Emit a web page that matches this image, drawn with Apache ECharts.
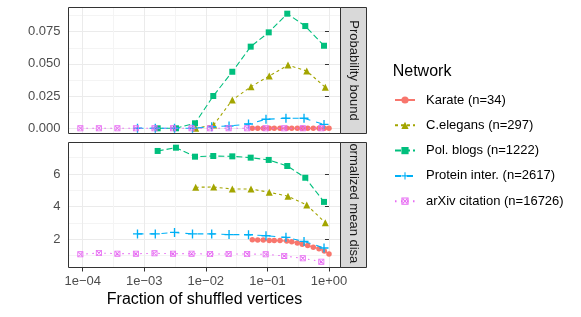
<!DOCTYPE html>
<html><head><meta charset="utf-8">
<script src="https://cdn.jsdelivr.net/npm/echarts@6/dist/echarts.min.js"></script>
<style>html,body{margin:0;padding:0;background:#fff}#c{width:581px;height:317px}</style>
</head><body><div id="c"></div>
<script>
// ---------------- data ----------------
const networks = ['Karate (n=34)', 'C.elegans (n=297)', 'Pol. blogs (n=1222)', 'Protein inter. (n=2617)', 'arXiv citation (n=16726)'];
const panelTitles = ['Probability bound', 'Normalized mean disagreement'];

const xKarate = [0.0568, 0.0695, 0.0857, 0.107, 0.129, 0.160, 0.206, 0.248, 0.306, 0.368, 0.451, 0.556, 0.688, 0.839, 1.0];
const probKarate = [0, 0, 0, 0, 0, 0, 0, 0, 0, 0, 0, 0, 0, 0, 0];
const disKarate = [1.97, 1.96, 1.96, 1.93, 1.92, 1.92, 1.89, 1.85, 1.78, 1.70, 1.62, 1.52, 1.42, 1.28, 1.10];

const xCelegans = [0.00684, 0.0134, 0.0269, 0.0541, 0.107, 0.216, 0.435, 0.871];
const probCelegans = [0, 0.0026, 0.0220, 0.0323, 0.0406, 0.0491, 0.0445, 0.0318];
const disCelegans = [5.19, 5.20, 5.08, 5.08, 4.88, 4.64, 4.10, 3.02];

const xPolblogs = [0.00165, 0.00327, 0.00667, 0.0132, 0.0269, 0.0535, 0.105, 0.210, 0.412, 0.83];
const probPolblogs = [0, 0, 0.0039, 0.0251, 0.0439, 0.0634, 0.0745, 0.0890, 0.0794, 0.0641];
const disPolblogs = [7.41, 7.61, 7.06, 7.10, 7.08, 7.00, 6.86, 6.49, 5.77, 4.29];

const xProtein = [0.000776, 0.00151, 0.00310, 0.00607, 0.01245, 0.0238, 0.0493, 0.0948, 0.200, 0.393, 0.83];
const probProtein = [0, 0, 0, 0, 0.0012, 0.0018, 0.0033, 0.0070, 0.0078, 0.0078, 0.0030];
const disProtein = [2.33, 2.33, 2.42, 2.33, 2.33, 2.29, 2.28, 2.22, 2.12, 1.87, 1.47];

const xArxiv = [0.0000916, 0.000183, 0.000366, 0.000732, 0.001465, 0.00293, 0.00586, 0.01172, 0.02344, 0.04688, 0.09375, 0.1875, 0.375, 0.75];
const probArxiv = [0, 0, 0, 0, 0, 0, 0, 0, 0, 0, 0, 0, 0, 0];
const disArxiv = [1.08, 1.16, 1.12, 1.12, 1.14, 1.12, 1.12, 1.10, 1.10, 1.10, 1.08, 0.98, 0.84, 0.63];

const xTickValues = [1e-4, 1e-3, 1e-2, 1e-1, 1];
const xTickLabels = ['1e\u221204', '1e\u221203', '1e\u221202', '1e\u221201', '1e+00'];
const yTopTicks = [0, 0.025, 0.05, 0.075];
const yTopLabels = ['0.000', '0.025', '0.050', '0.075'];
const yBotTicks = [2, 4, 6];
const yBotLabels = ['2', '4', '6'];

// ---------------- style ----------------
const FONT = 'Liberation Sans, Arial, Helvetica, sans-serif';
const colors = ['#F8766D', '#A3A500', '#00BF7D', '#00B0F6', '#E76BF3'];
const dashes = ['solid', [3, 3], [6, 3], [6, 6], [1.5, 4.5]];
const symPlus = 'path://M4.25,0H5.75V4.25H10V5.75H5.75V10H4.25V5.75H0V4.25H4.25Z';
const symBoxX = 'path://M0,0H10V10H0Z M1.4,1.4V8.6H8.6V1.4Z M1.4,2.4L2.4,1.4L8.6,7.6L7.6,8.6Z M7.6,1.4L8.6,2.4L2.4,8.6L1.4,7.6Z';
const symbols = ['circle', 'triangle', 'rect', symPlus, symBoxX];
const symSizes = [5.5, 7, 6, 9, 6];

const xs = [xKarate, xCelegans, xPolblogs, xProtein, xArxiv];
const probs = [probKarate, probCelegans, probPolblogs, probProtein, probArxiv];
const diss = [disKarate, disCelegans, disPolblogs, disProtein, disArxiv];

const G = {left: 68.5, right: 340.5, top1: 7.5, bot1: 133.5, top2: 142.5, bot2: 267.5};
const xLog = xTickValues.map(v => Math.log10(v));

function xLabel(v) {
  for (let i = 0; i < xLog.length; i++) if (Math.abs(v - xLog[i]) < 1e-6) return xTickLabels[i];
  return '';
}
function lab(ticks, labels) {
  return v => { for (let i = 0; i < ticks.length; i++) if (Math.abs(v - ticks[i]) < 1e-9) return labels[i]; return ''; };
}

function xAxis(k) {
  return {
    gridIndex: k, type: 'value', min: -4.2306, max: 0.1868, minInterval: 1, maxInterval: 1,
    axisLine: {show: false},
    axisTick: {show: k === 1, length: 4, customValues: xLog, lineStyle: {color: '#333333', width: 1}},
    axisLabel: {show: k === 1, customValues: xLog, formatter: xLabel, color: '#4D4D4D', fontSize: 13, margin: 7, fontFamily: FONT},
    splitLine: {show: true, lineStyle: {color: '#EBEBEB', width: 1}},
    minorTick: {show: false, splitNumber: 2},
    minorSplitLine: {show: true, lineStyle: {color: '#F4F4F4', width: 1}},
    name: k === 1 ? 'Fraction of shuffled vertices' : '',
    nameLocation: 'middle', nameGap: 24,
    nameTextStyle: {fontSize: 16, color: '#000', fontFamily: FONT}
  };
}
function yAxis(k) {
  const top = k === 0;
  const ticks = top ? yTopTicks : yBotTicks;
  return {
    gridIndex: k, type: 'value',
    min: top ? -0.00404 : 0.273, max: top ? 0.0938 : 7.928,
    minInterval: top ? 0.025 : 2, maxInterval: top ? 0.025 : 2,
    axisLine: {show: false},
    axisTick: {show: true, length: 4, customValues: ticks, lineStyle: {color: '#333333', width: 1}},
    axisLabel: {customValues: ticks, formatter: lab(ticks, top ? yTopLabels : yBotLabels), color: '#4D4D4D', fontSize: 13, margin: 8, fontFamily: FONT},
    splitLine: {show: true, lineStyle: {color: '#EBEBEB', width: 1}},
    minorTick: {show: false, splitNumber: 2},
    minorSplitLine: {show: true, lineStyle: {color: '#F4F4F4', width: 1}}
  };
}

const series = [];
for (let p = 0; p < 2; p++) {
  for (let i = 0; i < networks.length; i++) {
    const yv = p === 0 ? probs[i] : diss[i];
    series.push({
      name: networks[i], type: 'line', xAxisIndex: p, yAxisIndex: p,
      data: xs[i].map((f, j) => [Math.log10(f), yv[j]]),
      symbol: symbols[i], symbolSize: symSizes[i], showSymbol: true,
      lineStyle: {color: colors[i], width: 1.1, type: dashes[i]},
      itemStyle: {color: colors[i], borderWidth: 0},
      emphasis: {disabled: true}, silent: true, z: 2 + i, clip: false
    });
  }
}

const graphic = [
  {type: 'rect', shape: {x: G.left, y: G.top1, width: G.right - G.left, height: G.bot1 - G.top1}, style: {fill: 'none', stroke: '#333333', lineWidth: 1}, z: 100, silent: true},
  {type: 'rect', shape: {x: G.left, y: G.top2, width: G.right - G.left, height: G.bot2 - G.top2}, style: {fill: 'none', stroke: '#333333', lineWidth: 1}, z: 100, silent: true},
  {type: 'rect', shape: {x: G.right, y: G.top1, width: 26, height: G.bot1 - G.top1}, style: {fill: '#D9D9D9', stroke: '#333333', lineWidth: 1}, z: 90, silent: true},
  {type: 'rect', shape: {x: G.right, y: G.top2, width: 26, height: G.bot2 - G.top2}, style: {fill: '#D9D9D9', stroke: '#333333', lineWidth: 1}, z: 90, silent: true},
  {type: 'text', x: G.right + 13, y: (G.top1 + G.bot1) / 2, rotation: -Math.PI / 2, z: 95, silent: true,
   style: {text: panelTitles[0], fontSize: 13, fontFamily: FONT, fill: '#1A1A1A', align: 'center', verticalAlign: 'middle'}},
  {type: 'text', x: G.right + 13, y: G.bot1 + 0.5, rotation: -Math.PI / 2, z: 95, silent: true,
   style: {text: panelTitles[1], fontSize: 13, fontFamily: FONT, fill: '#1A1A1A', align: 'left', verticalAlign: 'middle', width: G.bot2 - G.bot1 - 0.5, overflow: 'truncate', ellipsis: ''}},
  {type: 'rect', shape: {x: G.right - 1, y: G.bot1 + 0.5, width: 30, height: G.top2 - G.bot1 - 1}, style: {fill: '#FFFFFF'}, z: 96, silent: true},
  {type: 'text', x: 392.7, y: 71.7, z: 50, silent: true,
   style: {text: 'Network', fontSize: 16, fontFamily: FONT, fill: '#000', align: 'left', verticalAlign: 'middle'}}
];

const chart = echarts.init(document.getElementById('c'), null, {renderer: 'canvas'});
chart.setOption({
  animation: false,
  backgroundColor: '#FFFFFF',
  grid: [
    {left: G.left, top: G.top1, width: G.right - G.left, height: G.bot1 - G.top1, show: false},
    {left: G.left, top: G.top2, width: G.right - G.left, height: G.bot2 - G.top2, show: false}
  ],
  xAxis: [xAxis(0), xAxis(1)],
  yAxis: [yAxis(0), yAxis(1)],
  legend: {
    orient: 'vertical', left: 394, top: 93.5, padding: 0,
    itemWidth: 20, itemHeight: 9, itemGap: 12.3, selectedMode: false,
    textStyle: {fontSize: 13, color: '#000', fontFamily: FONT, padding: [0, 0, 0, 6]},
    data: networks
  },
  graphic: graphic,
  series: series
});
</script>
</body></html>
